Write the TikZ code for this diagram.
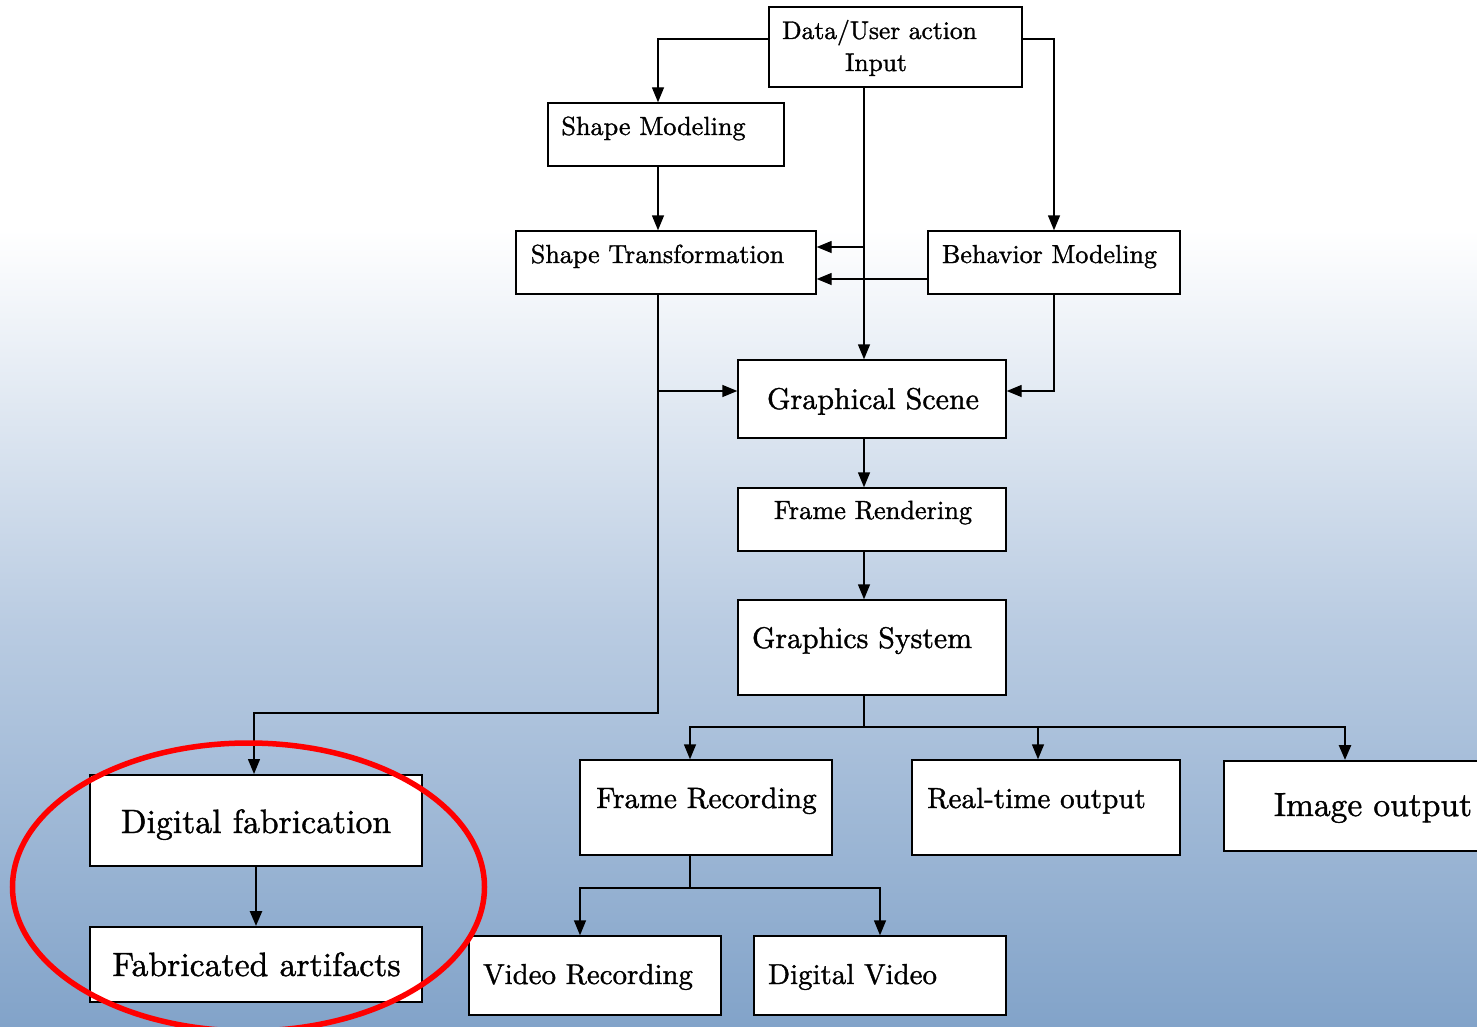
\documentclass[tikz,border=0pt]{standalone}
\usepackage{graphicx}
\usetikzlibrary{arrows.meta}
\definecolor{bgmid}{HTML}{BACCE2}
\definecolor{bgbot}{HTML}{82A3C9}
% Latin Modern 10pt design, slightly heavier strokes
\font\lmheavy="[lmroman10-regular.otf]:embolden=1.2" at 10pt
\newcommand{\lbl}[2]{\scalebox{#1}{\lmheavy #2}}
\begin{document}
\begin{tikzpicture}[x=1pt,y=-1pt,
  box/.style={draw=black, fill=white, line width=1.4pt, inner sep=0pt},
  txt/.style={inner sep=0pt, anchor=base},
  conn/.style={draw=black, line width=1.4pt},
  arr/.style={conn, -{Triangle[length=15pt,width=12pt]}},
  heavyarr/.style={draw=black, line width=2.6pt, -{Triangle[length=15pt,width=12pt]}}]
% background
\useasboundingbox (0,0) rectangle (1477,1027);
\fill[white] (0,0) rectangle (1477,231);
\shade[top color=white, bottom color=bgmid] (0,230) rectangle (1477,621);
\shade[top color=bgmid, bottom color=bgbot] (0,620) rectangle (1477,1027);
\clip (0,0) rectangle (1477,1027);

% boxes
\node[box, minimum width=253pt, minimum height=80pt] (din) at (895.5,47) {};
\node[box, minimum width=236pt, minimum height=63pt] (sm) at (666,134.5) {};
\node[box, minimum width=300pt, minimum height=63pt] (st) at (666,262.5) {};
\node[box, minimum width=252pt, minimum height=63pt] (bm) at (1054,262.5) {};
\node[box, minimum width=268pt, minimum height=78pt] (gs) at (872,399) {};
\node[box, minimum width=268pt, minimum height=63pt] (fr) at (872,519.5) {};
\node[box, minimum width=268pt, minimum height=95pt] (gsys) at (872,647.5) {};
\node[box, minimum width=252pt, minimum height=95pt] (frec) at (706,807.5) {};
\node[box, minimum width=268pt, minimum height=95pt] (rto) at (1046,807.5) {};
\node[box, line width=2pt, minimum width=298pt, minimum height=90pt] (io) at (1373,806) {};
\node[box, line width=2pt, minimum width=332pt, minimum height=91pt] (df) at (256,820.5) {};
\node[box, line width=2pt, minimum width=332pt, minimum height=75pt] (fa) at (256,964.5) {};
\node[box, minimum width=252pt, minimum height=79pt] (vr) at (595,975.5) {};
\node[box, minimum width=252pt, minimum height=79pt] (dv) at (880,975.5) {};

% labels
\node[txt] (tdin1) at (879.5,39) {\lbl{2.55}{Data/User action}};
\node[txt] (tdin2) at (876,71) {\lbl{2.55}{Input}};
\node[txt] (tsm) at (653.5,135) {\lbl{2.62}{Shape Modeling}};
\node[txt] (tst) at (657.5,263) {\lbl{2.61}{Shape Transformation}};
\node[txt] (tbm) at (1049.5,263) {\lbl{2.6}{Behavior Modeling}};
\node[txt] (tgs) at (873,409) {\lbl{3.0}{Graphical Scene}};
\node[txt] (tfr) at (873,519) {\lbl{2.63}{Frame Rendering}};
\node[txt] (tgsys) at (862,648) {\lbl{2.98}{Graphics System}};
\node[txt] (tfrec) at (706.5,808) {\lbl{2.95}{Frame Recording}};
\node[txt] (trto) at (1036.5,808) {\lbl{2.91}{Real-time output}};
\node[txt] (tio) at (1373,816) {\lbl{3.35}{Image output}};
\node[txt] (tdf) at (256,833) {\lbl{3.37}{Digital fabrication}};
\node[txt] (tfa) at (256.5,976) {\lbl{3.37}{Fabricated artifacts}};
\node[txt] (tvr) at (588,984) {\lbl{2.89}{Video Recording}};
\node[txt] (tdv) at (852.5,984) {\lbl{2.89}{Digital Video}};

% routing coordinates
\coordinate (xl) at (658,39);
\coordinate (xr) at (1054,39);
\coordinate (tx) at (864,0);
\coordinate (ta) at (864,247);
\coordinate (tb) at (864,279);
\coordinate (gy) at (0,391);
\coordinate (hy) at (0,713);
\coordinate (dx) at (254,0);
\coordinate (by) at (0,727);
\coordinate (bx1) at (690,0);
\coordinate (bx2) at (1038,0);
\coordinate (bx3) at (1345,0);
\coordinate (vy) at (0,888);
\coordinate (vx1) at (580,0);
\coordinate (vx2) at (880,0);

% connectors
\draw[arr] (din.west |- xl) -| (sm.north -| xl);
\draw[arr] (din.east |- xr) -| (bm.north -| xr);
\draw[arr] (din.south -| tx) -- (gs.north -| tx);
\draw[arr] (ta) -- (st.east |- ta);
\draw[arr] (bm.west |- tb) -- (st.east |- tb);
\draw[arr] (sm.south -| xl) -- (st.north -| xl);
\draw[arr] (st.south -| xl) |- (gs.west |- gy);
\draw[arr] (st.south -| xl) -- (xl |- hy) -| (df.north -| dx);
\draw[arr] (bm.south) |- (gs.east |- gy);
\draw[arr] (gs.south -| tx) -- (fr.north -| tx);
\draw[arr] (fr.south -| tx) -- (gsys.north -| tx);
\draw[conn] (gsys.south -| tx) -- (tx |- by);
\draw[arr] (tx |- by) -| (frec.north -| bx1);
\draw[arr] (tx |- by) -| (rto.north -| bx2);
\draw[heavyarr] (bx2 |- by) -| (io.north -| bx3);
\draw[conn] (frec.south -| bx1) -- (bx1 |- vy);
\draw[arr] (bx1 |- vy) -| (vr.north -| vx1);
\draw[arr] (bx1 |- vy) -| (dv.north -| vx2);
\draw[heavyarr] (df.south) -- (fa.north);

% highlight ring
\draw[red, line width=5.5pt] (248.5,887) ellipse [x radius=236, y radius=144];
\end{tikzpicture}
\end{document}
